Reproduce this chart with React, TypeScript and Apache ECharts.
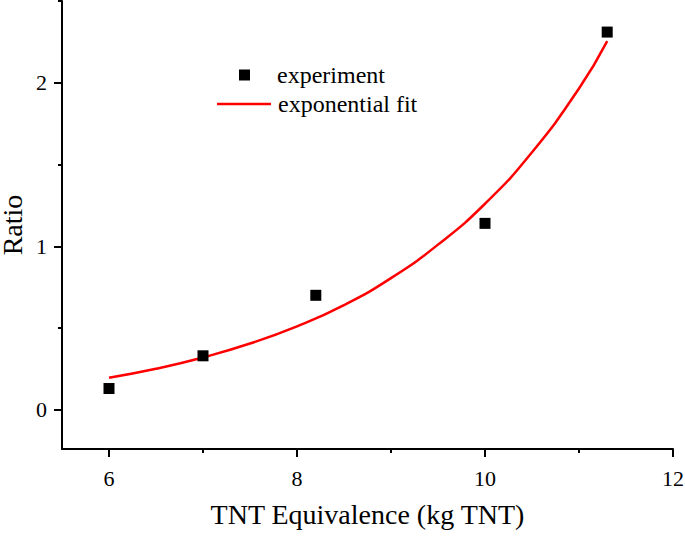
import React, { useEffect, useRef } from "react";
import * as echarts from "echarts";

const expX = [6, 7, 8.2, 10, 11.3];
const expY = [0.13, 0.33, 0.7, 1.14, 2.31];
const fitX = [6, 6.5, 7, 7.5, 8, 8.5, 9, 9.5, 10, 10.5, 11, 11.3];
const fitY = [0.196, 0.251, 0.32, 0.405, 0.51, 0.64, 0.805, 1.01, 1.26, 1.575, 1.965, 2.255];
const xMajor = [6, 8, 10, 12];
const xMinor = [7, 9, 11];
const yMajor = [0, 1, 2];
const yMinor = [0.5, 1.5, 2.5];

const FONT = "'Liberation Serif', 'Times New Roman', serif";

export default function App() {
  const ref = useRef<HTMLDivElement>(null);
  useEffect(() => {
    if (!ref.current) return;
    const chart = echarts.init(ref.current, undefined, { renderer: "svg" });
    const axisLine = { show: true, onZero: false, lineStyle: { color: "#000", width: 2 } };
    const baseX = { type: "value", min: 5.5, max: 12, position: "bottom", splitLine: { show: false } };
    const baseY = { type: "value", min: -0.24, max: 2.5, position: "left", splitLine: { show: false } };
    chart.setOption({
      animation: false,
      textStyle: { fontFamily: FONT },
      grid: { left: 62, right: 12, top: 1, bottom: 88, containLabel: false, outerBoundsMode: "none" },
      xAxis: [
        {
          ...baseX,
          axisLine,
          axisTick: { show: true, inside: false, length: 8, customValues: xMajor, lineStyle: { color: "#000", width: 2 } },
          axisLabel: { customValues: xMajor, margin: 18, color: "#000", fontSize: 22, fontFamily: FONT },
          name: "TNT Equivalence (kg TNT)",
          nameLocation: "middle",
          nameGap: 51,
          nameMoveOverlap: false,
          nameTextStyle: { color: "#000", fontSize: 28, fontFamily: FONT },
        },
        {
          ...baseX,
          axisLine: { show: false, onZero: false },
          axisTick: { show: true, inside: false, length: 4, customValues: xMinor, lineStyle: { color: "#000", width: 2 } },
          axisLabel: { show: false },
        },
      ],
      yAxis: [
        {
          ...baseY,
          axisLine,
          axisTick: { show: true, inside: false, length: 8, customValues: yMajor, lineStyle: { color: "#000", width: 2 } },
          axisLabel: { customValues: yMajor, margin: 15, color: "#000", fontSize: 22, fontFamily: FONT },
          name: "Ratio",
          nameLocation: "middle",
          nameGap: 36,
          nameMoveOverlap: false,
          nameTextStyle: { color: "#000", fontSize: 28, fontFamily: FONT },
        },
        {
          ...baseY,
          axisLine: { show: false, onZero: false },
          axisTick: { show: true, inside: false, length: 4, customValues: yMinor, lineStyle: { color: "#000", width: 2 } },
          axisLabel: { show: false },
        },
      ],
      legend: [
        {
          data: [{ name: "experiment", icon: "rect" }],
          left: 239,
          top: 63,
          padding: 0,
          itemWidth: 11,
          itemHeight: 11,
          textStyle: { fontSize: 24, color: "#000", fontFamily: FONT, padding: [0, 0, 0, 22] },
        },
        {
          data: [{ name: "exponential fit", icon: "rect" }],
          left: 217,
          top: 92,
          padding: 0,
          itemWidth: 54,
          itemHeight: 2.5,
          textStyle: { fontSize: 24, color: "#000", fontFamily: FONT, padding: [0, 0, 0, 2] },
        },
      ],
      series: [
        {
          name: "exponential fit",
          type: "line",
          data: fitX.map((x, i) => [x, fitY[i]]),
          smooth: true,
          symbol: "none",
          lineStyle: { color: "#ff0000", width: 2.5 },
          itemStyle: { color: "#ff0000" },
          z: 2,
        },
        {
          name: "experiment",
          type: "scatter",
          data: expX.map((x, i) => [x, expY[i]]),
          symbol: "rect",
          symbolSize: 11,
          itemStyle: { color: "#000", opacity: 1 },
          z: 3,
        },
      ],
    });
    return () => chart.dispose();
  }, []);
  return (
    <div
      ref={ref}
      style={{ position: "fixed", left: 0, top: 0, width: 685, height: 537, background: "#fff" }}
    />
  );
}
